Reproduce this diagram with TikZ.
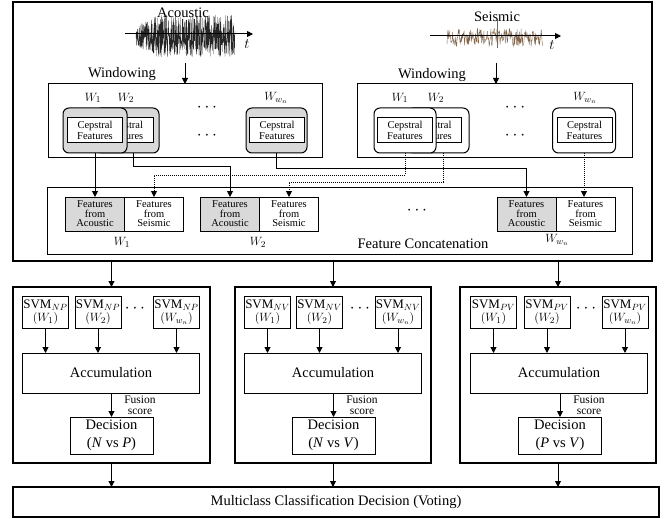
\documentclass[tikz,border=0pt]{standalone}
\usepackage{fontspec}
\setmainfont{Liberation Serif}
\usetikzlibrary{positioning,arrows.meta}
\begin{document}
\begin{tikzpicture}[x=1pt,y=-1pt,>={Triangle[length=6pt,width=6pt]},
box/.style={draw,line width=1pt,inner sep=0pt,outer sep=0pt,align=center},
frame/.style={box,line width=1.1pt},
winbox/.style={box,rounded corners=6pt,minimum width=64pt,minimum height=45pt},
cep/.style={box,fill=white,minimum width=55pt,minimum height=25pt,font=\fontsize{10.5}{11}\selectfont},
feat/.style={box,minimum width=59pt,minimum height=34pt,font=\fontsize{10.5}{9.5}\selectfont},
svm/.style={box,minimum width=46pt,minimum height=32pt,font=\fontsize{13}{13}\selectfont},
acc/.style={box,minimum width=177pt,minimum height=40pt,font=\fontsize{14.5}{15}\selectfont},
dec/.style={box,minimum width=83pt,minimum height=37pt,font=\fontsize{14.5}{18}\selectfont},
lab/.style={font=\fontsize{14.5}{15}\selectfont},
wlab/.style={font=\fontsize{12.5}{13}\selectfont},
dots/.style={font=\fontsize{17}{17}\selectfont},
fus/.style={font=\fontsize{11.5}{11.5}\selectfont,align=center,inner sep=0pt},
arr/.style={->,line width=1pt},
seis/.style={arr,densely dotted},
]
\useasboundingbox (0,0) rectangle (665,519);
% signals
\pgfmathsetseed{7}
\draw[line width=0.3pt,black!85] plot[domain=136:235,samples=560] (\x,{36+21*rand*min(1,0.45+(\x-136)/40)});
\draw[line width=0.4pt,brown!50!black!80] plot[domain=447:543,samples=220] (\x,{37.5+9*rand});
\draw[line width=0.5pt,brown!50!black!80] (497,19) -- (497,48);
\coordinate (acL) at (125,34);
\coordinate (acR) at (253,34);
\coordinate (seL) at (430,36);
\coordinate (seR) at (561,36);
\draw[arr] (acL) -- (acR);
\draw[arr] (seL) -- (seR);
\node[lab] (acTxt) at (183,13) {Acoustic};
\node[lab] (acT) at (247,44) {$t$};
\node[lab] (seTxt) at (497,17) {Seismic};
\node[lab] (seT) at (552,45) {$t$};
% feature extraction
\node[frame,minimum width=639pt,minimum height=259pt] (top) at (332.5,131.5) {};
\node[box,minimum width=274pt,minimum height=74pt] (winA) at (185,121) {};
\node[box,minimum width=275pt,minimum height=74pt] (winS) at (494.5,121) {};
\node[lab] (winAtxt) at (122,74) {Windowing};
\node[lab] (winStxt) at (432,75) {Windowing};
\coordinate (acIn) at (185,63);
\coordinate (seIn) at (496,63);
\draw[arr] (acIn) -- (winA.north);
\draw[arr] (seIn) -- (seIn |- winS.north);
\node[winbox,fill=gray!30] (aW2) at (127,130.5) {};
\node[cep] (aC2) at (125.5,130.5) {Cepstral\\Features};
\node[winbox,fill=gray!30] (aW1) at (95,130.5) {};
\node[cep] (aC1) at (95,130.5) {Cepstral\\Features};
\node[winbox,fill=gray!30,minimum width=61pt] (aWn) at (276.5,130.5) {};
\node[cep] (aCn) at (277,130.5) {Cepstral\\Features};
\node[winbox,fill=white,minimum width=62pt] (sW2) at (438,130.5) {};
\node[cep] (sC2) at (434,130.5) {Cepstral\\Features};
\node[winbox,fill=white,minimum width=62pt] (sW1) at (405,130.5) {};
\node[cep] (sC1) at (405,130.5) {Cepstral\\Features};
\node[winbox,fill=white,minimum width=63pt] (sWn) at (584,130.5) {};
\node[cep] (sCn) at (584.5,130.5) {Cepstral\\Features};
\node[wlab] (aL1) at (93,98) {$W_1$};
\node[wlab] (aL2) at (126,98) {$W_2$};
\node[wlab] (aLn) at (276,98) {$W_{w_n}$};
\node[wlab] (sL1) at (400,98) {$W_1$};
\node[wlab] (sL2) at (436,98) {$W_2$};
\node[wlab] (sLn) at (585,98) {$W_{w_n}$};
\node[dots] (aD1) at (207,108) {$\cdots$};
\node[dots] (aD2) at (207,136) {$\cdots$};
\node[dots] (sD1) at (515,108) {$\cdots$};
\node[dots] (sD2) at (515,136) {$\cdots$};
% concatenation
\node[box,minimum width=585pt,minimum height=67pt] (cat) at (339.5,220.5) {};
\node[feat,fill=gray!30] (fA1) at (95,214) {Features\\from\\Acoustic};
\node[feat,right=0pt of fA1] (fS1) {Features\\from\\Seismic};
\node[feat,fill=gray!30] (fA2) at (230,214) {Features\\from\\Acoustic};
\node[feat,right=0pt of fA2] (fS2) {Features\\from\\Seismic};
\node[feat,fill=gray!30] (fAn) at (526.5,214) {Features\\from\\Acoustic};
\node[feat,right=0pt of fAn] (fSn) {Features\\from\\Seismic};
\node[wlab] (fL1) at (122,242) {$W_1$};
\node[wlab] (fL2) at (258,242) {$W_2$};
\node[wlab] (fLn) at (557,240) {$W_{w_n}$};
\node[dots] (fD) at (417,211) {$\cdots$};
\node[lab] (catTxt) at (423,244) {Feature Concatenation};
\draw[arr] (aW1.south) -- (aW1.south |- fA1.north);
\draw[arr] ([xshift=6pt]aW2.south) -- ++(0,13) -| (fA2.north);
\draw[arr] (aWn.south) -- ++(0,15) -| (fAn.north);
\draw[seis] (sW1.south) -- ++(0,22) -| (fS1.north);
\draw[seis] ([xshift=5pt]sW2.south) -- ++(0,29) -| (fS2.north);
\draw[seis] (sWn.south) -- (sWn.south |- fSn.north);
% classifiers
\node[frame,minimum width=197pt,minimum height=176pt] (np) at (111.5,375) {};
\node[frame,minimum width=196pt,minimum height=176pt] (nv) at (333,375) {};
\node[frame,minimum width=196pt,minimum height=176pt] (pv) at (558,375) {};
\node[frame,minimum width=646pt,minimum height=30pt,font=\fontsize{14.5}{15}\selectfont] (mc) at (336,502) {Multiclass Classification Decision (Voting)};
\draw[arr] (np.north |- top.south) -- (np.north);
\draw[arr] (nv.north |- top.south) -- (nv.north);
\draw[arr] (pv.north |- top.south) -- (pv.north);
\draw[arr] (np.south) -- (np.south |- mc.north);
\draw[arr] (nv.south) -- (nv.south |- mc.north);
\draw[arr] (pv.south) -- (pv.south |- mc.north);
% N vs P
\node[svm] (npS1) at (45.5,312) {SVM$_{NP}$\\$(W_1)$};
\node[svm] (npS2) at (98,312) {SVM$_{NP}$\\$(W_2)$};
\node[svm] (npSn) at (176.5,312) {SVM$_{NP}$\\$(W_{w_n})$};
\node[dots] (npD) at (135,309) {$\cdots$};
\node[acc] (npAcc) at (111,373) {Accumulation};
\node[dec] (npDec) at (111.5,435.5) {Decision\\(\textit{N} vs \textit{P})};
\node[fus] (npFus) at (140,405) {Fusion\\score};
\draw[arr] (npS1.south) -- (npS1.south |- npAcc.north);
\draw[arr] (npS2.south) -- (npS2.south |- npAcc.north);
\draw[arr] (npSn.south) -- (npSn.south |- npAcc.north);
\draw[arr] (npDec.north |- npAcc.south) -- (npDec.north);
% N vs V
\node[svm] (nvS1) at (267.5,312) {SVM$_{NV}$\\$(W_1)$};
\node[svm] (nvS2) at (319.5,312) {SVM$_{NV}$\\$(W_2)$};
\node[svm] (nvSn) at (398,312) {SVM$_{NV}$\\$(W_{w_n})$};
\node[dots] (nvD) at (360,309) {$\cdots$};
\node[acc] (nvAcc) at (333,373) {Accumulation};
\node[dec] (nvDec) at (333.5,435.5) {Decision\\(\textit{N} vs \textit{V})};
\node[fus] (nvFus) at (362,405) {Fusion\\score};
\draw[arr] (nvS1.south) -- (nvS1.south |- nvAcc.north);
\draw[arr] (nvS2.south) -- (nvS2.south |- nvAcc.north);
\draw[arr] (nvSn.south) -- (nvSn.south |- nvAcc.north);
\draw[arr] (nvDec.north |- nvAcc.south) -- (nvDec.north);
% P vs V
\node[svm] (pvS1) at (493.5,312) {SVM$_{PV}$\\$(W_1)$};
\node[svm] (pvS2) at (547,312) {SVM$_{PV}$\\$(W_2)$};
\node[svm] (pvSn) at (625,312) {SVM$_{PV}$\\$(W_{w_n})$};
\node[dots] (pvD) at (586,309) {$\cdots$};
\node[acc] (pvAcc) at (559,373) {Accumulation};
\node[dec] (pvDec) at (560,435.5) {Decision\\(\textit{P} vs \textit{V})};
\node[fus] (pvFus) at (589,405) {Fusion\\score};
\draw[arr] (pvS1.south) -- (pvS1.south |- pvAcc.north);
\draw[arr] (pvS2.south) -- (pvS2.south |- pvAcc.north);
\draw[arr] (pvSn.south) -- (pvSn.south |- pvAcc.north);
\draw[arr] (pvDec.north |- pvAcc.south) -- (pvDec.north);
\end{tikzpicture}
\end{document}
